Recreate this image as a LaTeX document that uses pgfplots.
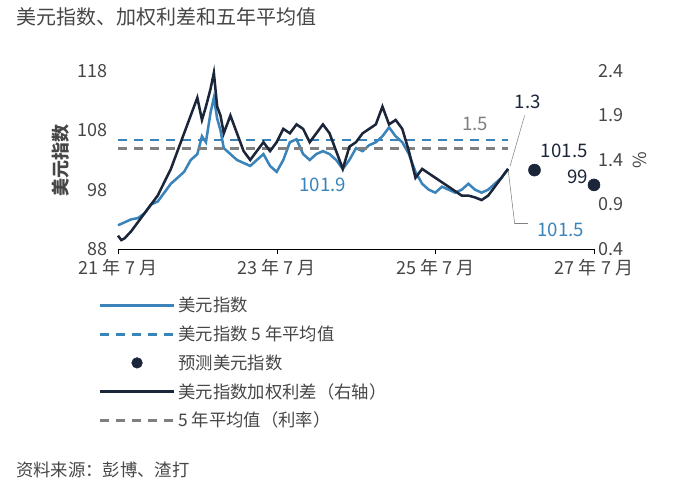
\documentclass[border=0pt]{standalone}
\usepackage{pgfplots}
\pgfplotsset{compat=1.18}
\usepackage{fontspec}
\setmainfont{Noto Sans CJK SC}
\definecolor{cblue}{RGB}{58,132,186}
\definecolor{cnavy}{RGB}{27,38,59}
\definecolor{cgray}{RGB}{128,128,128}
\definecolor{ctext}{RGB}{70,70,70}
\begin{document}
\begin{tikzpicture}
\path[use as bounding box] (0,0) rectangle (523.5pt,367.5pt);
\node[anchor=north west,font=\fontsize{15}{17}\selectfont,text=ctext,inner sep=0] at (12pt,362pt) {美元指数、加权利差和五年平均值};
\node[anchor=south west,font=\fontsize{13}{15}\selectfont,text=ctext,inner sep=0] at (12pt,9pt) {资料来源：彭博、渣打};
\begin{axis}[at={(88.5pt,180.75pt)},anchor=south west,scale only axis,width=357pt,height=133.5pt,
 xmin=0,xmax=72,ymin=88,ymax=118,ytick={88,98,108,118},
 xtick={0,24,48,72},xticklabels={21 年 7 月,23 年 7 月,25 年 7 月,27 年 7 月},
 axis x line*=bottom, axis y line*=left, y axis line style={draw=none},
 ytick style={draw=none}, x axis line style={-,black}, xtick style={black},
 tick align=outside, major tick length=4pt,
 tick label style={font=\fontsize{13.5}{15}\selectfont,text=ctext},
 /pgf/number format/assume math mode=true,
 ylabel={美元指数},ylabel style={font=\fontsize{13.5}{15}\selectfont\bfseries,text=ctext},
 clip=false]
\addplot[cblue,line width=1.9pt] coordinates {(0,92)(1,92.5)(2,93)(3,93.2)(4,94)(5,95.5)(6,96)(7,97.5)(8,99)(9,100)(10,101)(11,103)(12,104)(12.7,107)(13.3,106)(14,111)(14.5,113.5)(15,110)(15.5,108)(16,105)(17,104)(18,103)(19,102.5)(20,102)(21,103)(22,104)(23,102)(24,101)(25,103)(26,106)(27,106.5)(28,104)(29,103)(30,104)(31,104.5)(32,104)(33,103)(34,101.5)(35,103)(36,105)(37,104.5)(38,105.5)(39,106)(40,107)(41,108.5)(42,107)(43,106)(44,104)(45,101)(46,99)(47,98)(48,97.5)(49,98.5)(50,98)(51,97.5)(52,98)(53,99)(54,98)(55,97.5)(56,98)(57,99)(58,100)(59,101.5)};
\addplot[cblue,line width=1.9pt,dash pattern=on 7pt off 5pt] coordinates {(0,106.4)(59,106.4)};
\addplot[only marks,mark=*,mark size=4.5pt,cnavy] coordinates {(63,101.3)(72,98.8)};
\node[text=cblue,font=\fontsize{14}{16}\selectfont] at (axis cs:31,98.8) {101.9};
\node[text=cnavy,font=\fontsize{14}{16}\selectfont] at (axis cs:67.5,104.5) {101.5};
\node[text=cnavy,font=\fontsize{14}{16}\selectfont] at (axis cs:69.5,100.2) {99};
\node[text=cblue,font=\fontsize{14}{16}\selectfont] at (axis cs:67,91.3) {101.5};
\draw[cgray,thin] (axis cs:59,101.5) -- (axis cs:60,92.3) -- (axis cs:62,92.3);
\end{axis}
\begin{axis}[at={(88.5pt,180.75pt)},anchor=south west,scale only axis,width=357pt,height=133.5pt,
 xmin=0,xmax=72,ymin=0.4,ymax=2.4,ytick={0.4,0.9,1.4,1.9,2.4},
 axis x line=none, axis y line*=right, y axis line style={draw=none}, ytick style={draw=none},
 yticklabel style={/pgf/number format/fixed,/pgf/number format/precision=1,/pgf/number format/fixed zerofill},
 tick label style={font=\fontsize{13.5}{15}\selectfont,text=ctext},
 /pgf/number format/assume math mode=true,
 ylabel={\%},ylabel style={font=\fontsize{13.5}{15}\selectfont,text=ctext},
 clip=false,
 legend style={draw=none,fill=none,at={(-0.05,-0.24)},anchor=north west,row sep=5pt,
   font=\fontsize{13}{15}\selectfont,text=ctext},
 legend cell align=left,
 legend image code/.code={\draw[#1] (0pt,0pt) -- (56pt,0pt);}]
\addplot[cgray,line width=1.9pt,dash pattern=on 7pt off 5pt,forget plot] coordinates {(0,1.53)(59,1.53)};
\addplot[cnavy,line width=1.9pt,forget plot] coordinates {(0,0.55)(0.5,0.5)(1,0.52)(2,0.6)(3,0.7)(4,0.8)(5,0.9)(6,1.0)(7,1.15)(8,1.3)(9,1.5)(10,1.7)(11,1.9)(12,2.1)(12.7,1.85)(13.3,2.0)(14,2.2)(14.5,2.38)(15,2.0)(15.5,1.9)(16,1.7)(17,1.9)(18,1.7)(19,1.5)(20,1.4)(21,1.5)(22,1.6)(23,1.5)(24,1.6)(25,1.75)(26,1.7)(27,1.8)(28,1.75)(29,1.6)(30,1.7)(31,1.8)(32,1.7)(33,1.5)(34,1.3)(35,1.55)(36,1.6)(37,1.7)(38,1.75)(39,1.8)(40,2.0)(41,1.8)(42,1.85)(43,1.75)(44,1.5)(45,1.2)(46,1.3)(47,1.25)(48,1.2)(49,1.15)(50,1.1)(51,1.05)(52,1.0)(53,1.0)(54,0.98)(55,0.95)(56,1.0)(57,1.1)(58,1.2)(59,1.3)};
\node[text=cgray,font=\fontsize{14}{16}\selectfont] at (axis cs:54,1.8) {1.5};
\node[text=cnavy,font=\fontsize{14}{16}\selectfont] at (axis cs:62,2.05) {1.3};
\draw[cgray,thin] (axis cs:61.5,1.9) -- (axis cs:59.3,1.33);
\addlegendimage{cblue,line width=1.9pt}
\addlegendentry{美元指数}
\addlegendimage{cblue,line width=1.9pt,dash pattern=on 7pt off 5pt}
\addlegendentry{美元指数 5 年平均值}
\addlegendimage{legend image code/.code={\fill[cnavy] (28pt,0pt) circle (4pt);}}
\addlegendentry{预测美元指数}
\addlegendimage{cnavy,line width=1.9pt}
\addlegendentry{美元指数加权利差（右轴）}
\addlegendimage{cgray,line width=1.9pt,dash pattern=on 7pt off 5pt}
\addlegendentry{5 年平均值（利率）}
\end{axis}
\end{tikzpicture}
\end{document}
